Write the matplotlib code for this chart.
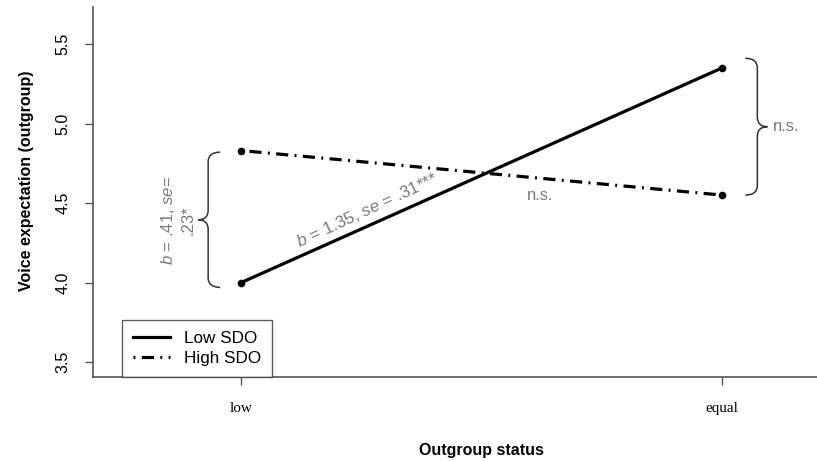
import numpy as np
import matplotlib.pyplot as plt
from matplotlib.path import Path
from matplotlib.patches import PathPatch

plt.rcParams['font.family'] = ['Liberation Sans', 'DejaVu Sans']
plt.rcParams['mathtext.fontset'] = 'custom'
plt.rcParams['mathtext.rm'] = 'Liberation Sans'
plt.rcParams['mathtext.it'] = 'Liberation Sans:italic'

# Data
status_labels = ['low', 'equal']
status_x = [0, 1]
low_sdo = [4.00, 5.35]
high_sdo = [4.83, 4.55]
y_ticks = [3.5, 4.0, 4.5, 5.0, 5.5]

ann_gray = '#7a7a7a'
axis_gray = '#555555'


def draw_brace(ax, x_end, x_mid, x_tip, y_top, y_bot, r):
    # curly brace; opens toward x_end, points toward x_tip
    y_c = (y_top + y_bot) / 2
    verts = [(x_end, y_top), (x_mid, y_top), (x_mid, y_top - r),
             (x_mid, y_c + r),
             (x_mid, y_c), (x_tip, y_c),
             (x_mid, y_c), (x_mid, y_c - r),
             (x_mid, y_bot + r),
             (x_mid, y_bot), (x_end, y_bot)]
    codes = [Path.MOVETO, Path.CURVE3, Path.CURVE3,
             Path.LINETO,
             Path.CURVE3, Path.CURVE3,
             Path.CURVE3, Path.CURVE3,
             Path.LINETO,
             Path.CURVE3, Path.CURVE3]
    ax.add_patch(PathPatch(Path(verts, codes), fill=False,
                           edgecolor='#333333', lw=1.1))


fig = plt.figure(figsize=(8.17, 4.61), dpi=100)
ax = fig.add_axes([0.1138, 0.182, 0.8862, 0.803])

dashdot = (0.6, 2.0, 3.8, 2.0)
ax.plot(status_x, low_sdo, color='black', lw=2.3, marker='o', ms=4.5,
        label='Low SDO', clip_on=False)
ax.plot(status_x, high_sdo, color='black', lw=2.3, marker='o', ms=4.5,
        dashes=dashdot, label='High SDO', clip_on=False)

ax.set_xlim(-0.308, 1.197)
ax.set_ylim(3.406, 5.733)

ax.set_yticks(y_ticks)
ax.set_yticklabels([f'{v:.1f}' for v in y_ticks], rotation=90, va='center',
                   fontsize=11.5)
ax.set_xticks(status_x)
ax.set_xticklabels(status_labels, family='Liberation Serif', fontsize=11)
ax.tick_params(axis='both', color=axis_gray, length=6, width=1.0)
ax.tick_params(axis='x', pad=12)
ax.tick_params(axis='y', pad=10)

for side in ['top', 'right']:
    ax.spines[side].set_visible(False)
for side in ['left', 'bottom']:
    ax.spines[side].set_color(axis_gray)
    ax.spines[side].set_linewidth(1.2)

ax.set_ylabel('Voice expectation (outgroup)', fontsize=11.5,
              fontweight='bold', labelpad=16)
ax.yaxis.label.set_y(0.53)
ax.set_xlabel('Outgroup status', fontsize=11.5, fontweight='bold',
              labelpad=20)
ax.xaxis.label.set_x(0.536)

# braces
draw_brace(ax, -0.0437, -0.0686, -0.089, 4.82, 3.97, 0.06)
draw_brace(ax, 1.048, 1.073, 1.094, 5.41, 4.55, 0.06)

# annotations
ax.text(-0.133, 4.39, '$b$ = .41, $se$=\n.23*', rotation=90, ha='center',
        va='center', color=ann_gray, fontsize=12, linespacing=1.25,
        multialignment='center')
ax.text(0.262, 4.455, '$b$ = 1.35, $se$ = .31***', rotation=25,
        ha='center', va='center', color=ann_gray, fontsize=12.3,
        rotation_mode='anchor')
ax.text(0.622, 4.545, 'n.s.', ha='center', va='center', color=ann_gray,
        fontsize=12)
ax.text(1.105, 4.98, 'n.s.', ha='left', va='center', color=ann_gray,
        fontsize=12)

leg = ax.legend(loc='lower left', bbox_to_anchor=(0.0398, 0.0), fontsize=12.3,
                frameon=True, fancybox=False, handlelength=2.2,
                borderpad=0.65, labelspacing=0.3, handletextpad=0.8,
                borderaxespad=0.0)
leg.get_frame().set_edgecolor('#333333')
leg.get_frame().set_linewidth(1.0)
for line in leg.get_lines():
    line.set_marker('')

fig.savefig('out.png', dpi=100)
